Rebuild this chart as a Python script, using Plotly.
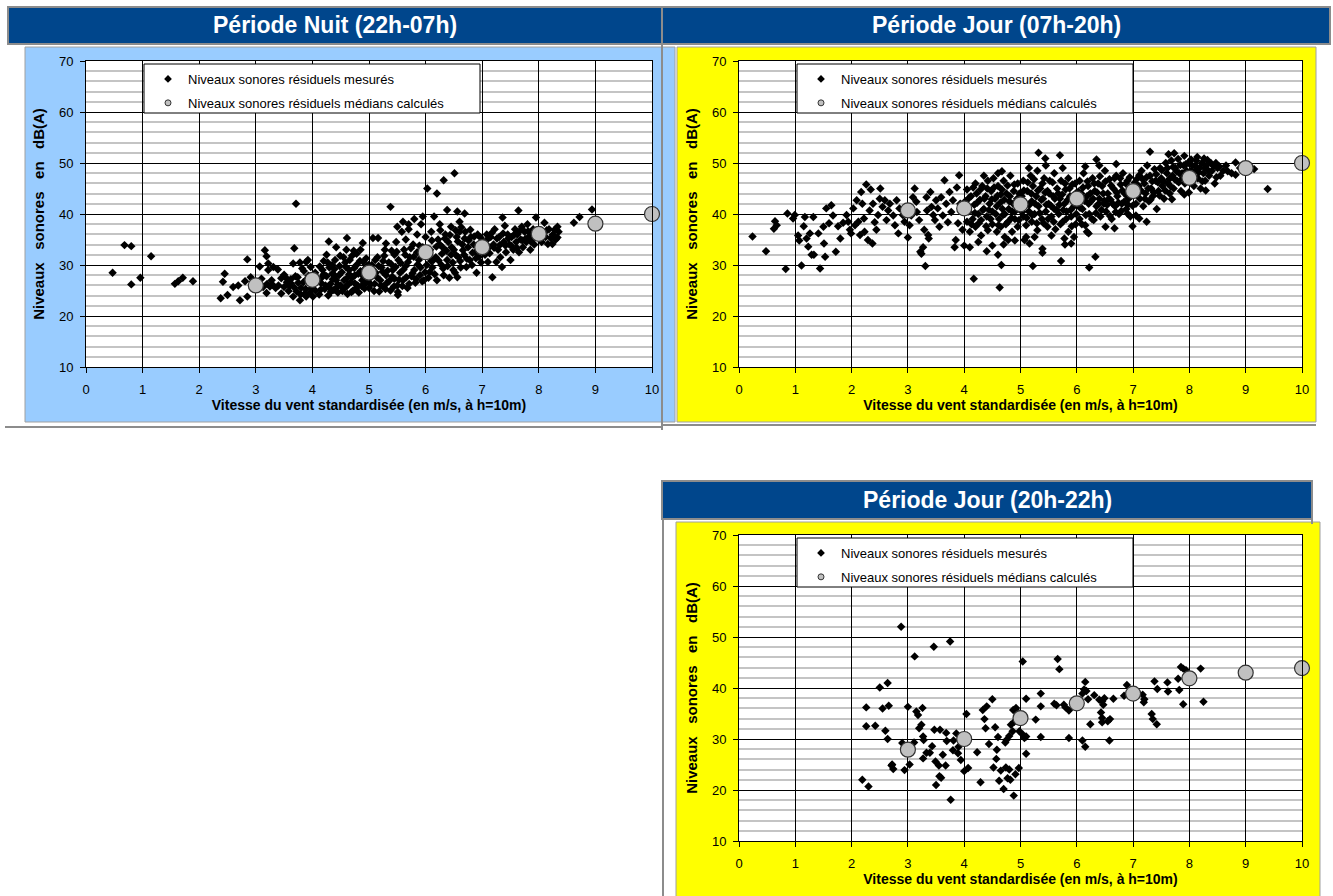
import plotly.graph_objects as go

W, H = 1333, 896

# ---------------- DATA ----------------
night_points = [
    (0.47, 28.5), (0.68, 33.9), (0.80, 33.7), (0.80, 26.2), (0.96, 27.5), (1.15, 31.7), (1.57, 26.3),
    (1.63, 26.8), (1.71, 27.5), (1.89, 26.8),
    (2.38, 23.5), (2.50, 24.1), (2.72, 23.1), (2.85, 23.8), (2.42, 26.7), (2.45, 28.3), (2.60, 25.7),
    (2.69, 26.0), (2.81, 26.8), (2.85, 31.1), (2.91, 27.6), (2.95, 26.5),
    (3.07, 29.7), (3.16, 32.9), (3.19, 31.7), (3.22, 30.3), (3.22, 29.0), (3.31, 29.6), (3.39, 29.1),
    (3.19, 24.5), (3.45, 24.4), (3.10, 27.3), (3.20, 26.3), (3.25, 25.8), (3.30, 26.1), (3.35, 25.5),
    (3.40, 26.0), (3.50, 25.7), (3.55, 26.6), (3.60, 25.9), (3.13, 25.7), (3.28, 27.0), (3.45, 27.4),
    (3.50, 28.1), (3.62, 27.2),
    (3.71, 42.0), (3.68, 33.3), (3.66, 30.3), (3.78, 30.5), (3.89, 30.6), (3.92, 31.0), (3.66, 23.8),
    (3.78, 23.1), (3.89, 23.8), (4.01, 23.8), (3.70, 27.8), (3.75, 26.5), (3.80, 25.5), (3.85, 28.8),
    (3.90, 27.2), (3.95, 24.5), (4.00, 26.0), (4.05, 25.0), (3.72, 24.8), (3.82, 29.3), (3.97, 29.6),
    (4.05, 28.5), (4.10, 27.3),
    (3.55, 27.3), (3.62, 26.4), (3.68, 25.6), (3.74, 27.6), (3.79, 24.2), (3.84, 26.6), (3.88, 25.3),
    (3.93, 27.9), (3.98, 25.4), (4.03, 27.2), (3.58, 24.9), (3.86, 24.3),
    (4.12, 24.2), (4.15, 26.5), (4.18, 29.0), (4.20, 30.8), (4.22, 25.3), (4.25, 27.8), (4.28, 24.0),
    (4.30, 29.5), (4.29, 34.6), (4.32, 26.3), (4.35, 28.3), (4.38, 25.1), (4.40, 31.0), (4.42, 33.5),
    (4.42, 27.0), (4.45, 24.6), (4.48, 29.8), (4.50, 26.0), (4.52, 28.6), (4.55, 25.3), (4.58, 30.5),
    (4.60, 27.3), (4.61, 35.3), (4.62, 24.3), (4.65, 29.0), (4.68, 26.6), (4.70, 31.8), (4.72, 25.0),
    (4.73, 32.8), (4.75, 28.0), (4.78, 32.2), (4.78, 30.0), (4.80, 26.0), (4.82, 24.6), (4.85, 28.8),
    (4.88, 27.0), (4.89, 34.3), (4.90, 30.6), (4.92, 25.4), (4.95, 29.5), (4.98, 26.8), (4.55, 31.5),
    (4.35, 30.0), (4.25, 32.0), (4.60, 33.0), (4.85, 33.0), (4.95, 31.3), (4.15, 25.2), (4.30, 25.6),
    (4.45, 26.2), (4.60, 25.8), (4.75, 26.4), (4.90, 27.8), (4.40, 27.9), (4.65, 28.2), (4.20, 28.2),
    (4.08, 26.8), (4.13, 29.7), (4.17, 27.6), (4.23, 26.0), (4.27, 30.5), (4.33, 24.8), (4.36, 27.2),
    (4.39, 29.2), (4.43, 25.6), (4.47, 28.0), (4.49, 31.8), (4.53, 24.9), (4.56, 27.0), (4.59, 29.6),
    (4.63, 26.2), (4.66, 31.0), (4.69, 24.7), (4.71, 27.6), (4.74, 29.4), (4.77, 25.4), (4.81, 28.3),
    (4.84, 30.8), (4.87, 25.9), (4.91, 29.0), (4.93, 26.3), (4.97, 28.2), (4.99, 30.0),
    (5.00, 25.5), (5.02, 27.5), (5.05, 30.0), (5.07, 35.3), (5.10, 26.3), (5.12, 28.5), (5.15, 31.5),
    (5.16, 35.3), (5.18, 24.8), (5.20, 27.0), (5.22, 29.5), (5.25, 25.8), (5.28, 33.0), (5.30, 28.0),
    (5.32, 26.5), (5.35, 30.5), (5.38, 41.4), (5.38, 25.0), (5.40, 32.8), (5.42, 29.0), (5.45, 27.3),
    (5.48, 34.5), (5.50, 26.0), (5.51, 24.1), (5.51, 24.7), (5.52, 31.0), (5.55, 28.5), (5.58, 36.5),
    (5.60, 27.0), (5.62, 33.0), (5.65, 29.8), (5.68, 25.5), (5.70, 37.0), (5.72, 31.5), (5.75, 27.8),
    (5.78, 34.0), (5.80, 29.0), (5.82, 26.5), (5.85, 36.0), (5.88, 31.0), (5.90, 28.0), (5.92, 38.0),
    (5.95, 33.5), (5.97, 27.0), (6.00, 35.5), (5.60, 38.5), (5.70, 38.0), (5.50, 37.5), (5.80, 39.0),
    (5.95, 39.5), (5.25, 30.8), (5.45, 32.0), (5.65, 35.0), (5.85, 32.5), (5.05, 28.8), (5.30, 34.2),
    (5.03, 26.2), (5.06, 29.2), (5.09, 24.9), (5.11, 31.0), (5.14, 27.6), (5.17, 29.8), (5.21, 26.0),
    (5.24, 28.7), (5.27, 31.8), (5.29, 25.3), (5.33, 28.9), (5.36, 26.9), (5.39, 30.2), (5.41, 27.7),
    (5.44, 25.8), (5.47, 29.6), (5.49, 32.6), (5.53, 27.1), (5.56, 30.4), (5.59, 25.9), (5.61, 29.1),
    (5.64, 32.0), (5.66, 27.6), (5.69, 30.6), (5.71, 26.3), (5.74, 33.3), (5.77, 28.4), (5.79, 31.6),
    (5.83, 27.2), (5.86, 30.1), (5.89, 33.8), (5.91, 29.5), (5.94, 26.8), (5.96, 31.9), (5.99, 28.6),
    (6.02, 30.0), (6.03, 45.0), (6.05, 27.5), (6.08, 33.0), (6.10, 36.5), (6.12, 29.5), (6.15, 39.5),
    (6.18, 31.5), (6.20, 44.0), (6.20, 27.0), (6.22, 35.0), (6.25, 38.0), (6.28, 30.0), (6.30, 33.5),
    (6.32, 46.6), (6.32, 28.0), (6.35, 36.0), (6.38, 40.8), (6.38, 31.0), (6.40, 34.5), (6.42, 27.5),
    (6.45, 37.5), (6.48, 30.5), (6.50, 33.0), (6.51, 48.0), (6.52, 28.5), (6.55, 35.5), (6.56, 40.5),
    (6.56, 27.6), (6.58, 31.5), (6.60, 38.5), (6.62, 29.5), (6.65, 34.0), (6.68, 32.0), (6.69, 40.1),
    (6.70, 36.5), (6.72, 29.6), (6.75, 33.5), (6.78, 31.0), (6.80, 35.5), (6.82, 30.0), (6.85, 34.0),
    (6.88, 32.5), (6.89, 31.3), (6.90, 28.5), (6.92, 36.0), (6.95, 33.0), (6.98, 30.5), (6.10, 30.8),
    (6.25, 34.0), (6.45, 32.0), (6.60, 36.5),
    (6.04, 32.5), (6.07, 28.6), (6.11, 34.8), (6.14, 31.0), (6.16, 28.2), (6.19, 33.6), (6.23, 30.9),
    (6.26, 36.8), (6.29, 32.2), (6.31, 29.3), (6.34, 35.2), (6.37, 32.8), (6.39, 29.8), (6.43, 35.9),
    (6.46, 33.5), (6.49, 29.0), (6.53, 36.8), (6.54, 31.9), (6.57, 34.6), (6.61, 30.8), (6.63, 37.4),
    (6.66, 32.9), (6.69, 35.2), (6.73, 31.2), (6.76, 34.8), (6.79, 36.9), (6.83, 32.4), (6.86, 35.6),
    (6.91, 33.8), (6.94, 31.6), (6.97, 35.4),
    (7.02, 34.5), (7.05, 32.0), (7.08, 36.0), (7.10, 30.6), (7.12, 33.5), (7.15, 35.5), (7.18, 27.6),
    (7.20, 34.0), (7.22, 37.0), (7.25, 30.6), (7.28, 33.0), (7.30, 35.5), (7.32, 31.5), (7.35, 29.6),
    (7.36, 39.3), (7.38, 34.5), (7.40, 37.7), (7.42, 32.5), (7.45, 36.0), (7.48, 34.0), (7.50, 31.0),
    (7.52, 35.5), (7.55, 33.0), (7.58, 37.0), (7.60, 34.5), (7.62, 36.0), (7.64, 40.7), (7.65, 32.5),
    (7.68, 35.0), (7.70, 37.5), (7.72, 33.5), (7.75, 36.5), (7.78, 34.5), (7.80, 38.0), (7.82, 35.5),
    (7.85, 33.0), (7.88, 36.0), (7.90, 37.0), (7.92, 34.0), (7.95, 39.3), (7.98, 35.8),
    (7.04, 33.2), (7.09, 35.0), (7.13, 32.3), (7.17, 36.3), (7.21, 33.4), (7.26, 35.2), (7.31, 33.9),
    (7.37, 36.2), (7.41, 33.8), (7.46, 35.2), (7.51, 33.8), (7.56, 35.9), (7.61, 33.4), (7.66, 36.6),
    (7.71, 34.8), (7.76, 35.1), (7.81, 36.6), (7.86, 34.6), (7.91, 35.4), (7.96, 36.8),
    (8.02, 36.5), (8.05, 34.5), (8.10, 38.3), (8.12, 35.5), (8.16, 34.1), (8.18, 37.0), (8.24, 34.1),
    (8.25, 36.0), (8.30, 35.0), (8.33, 37.5), (8.33, 35.4), (8.35, 36.5), (8.62, 38.3), (8.72, 39.4),
    (8.94, 40.9), (8.06, 35.6), (8.14, 36.8), (8.21, 35.3), (8.28, 36.9),
]
night_median_x = [3, 4, 5, 6, 7, 8, 9, 10]
night_median_y = [26.0, 27.1, 28.5, 32.5, 33.5, 36.1, 38.1, 40.0]

day_points = [
    (0.24, 35.6), (0.48, 32.7), (0.62, 37.1), (0.67, 37.8), (0.64, 38.6), (0.83, 29.2), (0.86, 40.1),
    (0.96, 39.1), (0.99, 39.8), (1.05, 35.8), (1.07, 34.8), (1.11, 29.9), (1.15, 37.6), (1.17, 39.4),
    (1.20, 35.2), (1.23, 33.6), (1.26, 36.2), (1.29, 32.0), (1.32, 39.4), (1.33, 32.0),
    (1.41, 36.2), (1.44, 29.3), (1.50, 37.5), (1.51, 34.2), (1.53, 31.6), (1.55, 41.1), (1.60, 38.2),
    (1.64, 41.7), (1.67, 39.7), (1.72, 32.6), (1.76, 37.6), (1.80, 35.2), (1.85, 38.3),
    (1.91, 39.8), (1.94, 38.5), (1.97, 36.9), (1.99, 36.2), (2.03, 41.1), (2.06, 37.8), (2.09, 42.7),
    (2.12, 38.5), (2.15, 35.9), (2.17, 44.3), (2.19, 42.0), (2.22, 39.1), (2.23, 36.5), (2.26, 45.8),
    (2.29, 34.9), (2.32, 40.7), (2.34, 44.8), (2.37, 34.2), (2.38, 42.0), (2.41, 38.4), (2.44, 36.9),
    (2.47, 39.8), (2.50, 43.0), (2.51, 45.0), (2.55, 41.4), (2.59, 42.7), (2.62, 38.8), (2.65, 40.7),
    (2.68, 42.0), (2.74, 39.7), (2.77, 37.8), (2.80, 42.7), (2.83, 36.2), (2.85, 41.1), (2.91, 39.8),
    (2.94, 38.5), (3.00, 35.4),
    (3.03, 37.8), (3.06, 39.7), (3.09, 43.3), (3.12, 45.0), (3.15, 42.4), (3.16, 40.4), (3.20, 38.8),
    (3.22, 32.6), (3.24, 32.2), (3.27, 33.5), (3.29, 36.9), (3.31, 29.8), (3.33, 43.3), (3.34, 40.7),
    (3.36, 35.9), (3.37, 35.2), (3.40, 44.3), (3.42, 41.4), (3.45, 39.8), (3.48, 38.8), (3.50, 42.7),
    (3.53, 41.1), (3.56, 37.5), (3.59, 43.3), (3.62, 39.7), (3.65, 46.6), (3.68, 42.0), (3.71, 38.4),
    (3.74, 44.3), (3.77, 40.4), (3.80, 42.7), (3.83, 33.5), (3.85, 34.9), (3.87, 45.2), (3.89, 38.2),
    (3.91, 47.6), (3.93, 42.0), (3.97, 36.9), (4.00, 33.8),
    (4.17, 27.3), (4.63, 25.6), (4.66, 30.0), (4.60, 32.0), (4.40, 32.7), (4.67, 48.4),
    (4.02, 42.5), (4.05, 38.5), (4.05, 44.8), (4.08, 40.5), (4.10, 36.5), (4.12, 43.5), (4.15, 39.0),
    (4.18, 41.8), (4.20, 46.0), (4.20, 37.5), (4.22, 44.0), (4.25, 40.0), (4.28, 42.8), (4.30, 35.8),
    (4.30, 38.8), (4.32, 45.5), (4.35, 41.0), (4.38, 43.5), (4.40, 39.5), (4.42, 36.8), (4.42, 46.5),
    (4.45, 42.0), (4.48, 44.5), (4.50, 40.5), (4.50, 38.0), (4.52, 47.0), (4.55, 43.0), (4.58, 36.5),
    (4.58, 41.5), (4.60, 45.5), (4.62, 39.0), (4.65, 43.8), (4.65, 37.5), (4.68, 41.0), (4.70, 46.5),
    (4.72, 40.0), (4.72, 35.5), (4.75, 44.0), (4.78, 38.5), (4.80, 42.5), (4.82, 47.5), (4.85, 40.5),
    (4.85, 36.5), (4.88, 44.5), (4.90, 39.0), (4.92, 42.0), (4.95, 46.0), (4.95, 37.5), (4.98, 41.0),
    (4.98, 44.0), (4.10, 33.5), (4.25, 34.5), (4.50, 33.8), (4.70, 34.0), (4.90, 34.8), (4.35, 47.5),
    (4.60, 48.0), (4.78, 34.9),
    (4.04, 41.2), (4.09, 43.2), (4.13, 38.0), (4.16, 45.2), (4.19, 40.2), (4.23, 42.2), (4.26, 38.2),
    (4.29, 44.8), (4.33, 40.8), (4.36, 43.0), (4.39, 37.6), (4.41, 45.0), (4.44, 40.8), (4.47, 39.0),
    (4.49, 42.9), (4.53, 45.2), (4.56, 40.0), (4.59, 43.6), (4.61, 37.8), (4.64, 42.2), (4.67, 44.8),
    (4.69, 39.8), (4.71, 42.8), (4.74, 38.0), (4.77, 45.6), (4.79, 41.0), (4.81, 43.5), (4.84, 39.2),
    (4.87, 42.0), (4.89, 45.8), (4.91, 40.6), (4.94, 43.0), (4.97, 38.8), (4.99, 42.6),
    (5.32, 52.0), (5.44, 50.9), (5.70, 51.5), (6.35, 50.7), (7.30, 52.2), (7.63, 51.7), (7.73, 51.9),
    (7.91, 51.4), (8.03, 50.7), (8.14, 51.2), (8.26, 50.9), (8.32, 50.6), (8.47, 50.0), (8.53, 49.3),
    (8.68, 48.4), (8.82, 47.7), (8.82, 50.1), (9.00, 49.3), (9.15, 48.8), (9.39, 44.9),
    (5.22, 29.8), (5.72, 30.8), (6.22, 29.5), (6.33, 31.6), (5.39, 33.2), (5.39, 32.4), (5.78, 35.2),
    (5.90, 34.2), (5.79, 34.0), (5.10, 35.5), (5.16, 34.2), (5.07, 34.9), (6.18, 36.5), (6.21, 36.2),
    (6.51, 37.5), (6.67, 37.2), (6.99, 37.6), (7.24, 38.5), (7.69, 42.9), (7.91, 43.8), (7.99, 44.2),
    (8.29, 44.6), (6.90, 40.1), (7.11, 39.1), (7.05, 39.7),
    (5.02, 43.5), (5.05, 39.5), (5.05, 46.5), (5.08, 41.5), (5.10, 37.8), (5.12, 44.5), (5.15, 40.5),
    (5.18, 47.5), (5.20, 42.5), (5.20, 38.5), (5.22, 45.5), (5.25, 40.0), (5.28, 43.5), (5.30, 36.8),
    (5.30, 48.5), (5.32, 41.5), (5.35, 45.0), (5.38, 39.0), (5.40, 43.0), (5.42, 47.0), (5.45, 40.5),
    (5.48, 37.5), (5.48, 44.5), (5.50, 42.0), (5.52, 46.5), (5.55, 39.5), (5.58, 43.5), (5.60, 41.0),
    (5.60, 48.0), (5.62, 37.0), (5.65, 45.0), (5.68, 40.0), (5.70, 43.0), (5.72, 46.5), (5.75, 38.5),
    (5.78, 42.0), (5.80, 44.8), (5.82, 40.5), (5.85, 47.0), (5.85, 36.5), (5.88, 43.5), (5.90, 39.5),
    (5.92, 45.8), (5.95, 41.5), (5.98, 38.0), (5.98, 44.0), (5.15, 49.0), (5.45, 49.5), (5.75, 49.0),
    (5.25, 35.5), (5.55, 35.8), (5.95, 35.5),
    (5.03, 40.4), (5.06, 44.6), (5.09, 42.0), (5.11, 39.2), (5.13, 46.2), (5.16, 41.8), (5.19, 44.0),
    (5.21, 39.8), (5.24, 46.8), (5.26, 42.0), (5.29, 38.2), (5.31, 44.6), (5.34, 40.2), (5.37, 42.8),
    (5.39, 46.0), (5.41, 38.2), (5.44, 44.2), (5.46, 41.8), (5.49, 39.0), (5.51, 44.0), (5.54, 41.6),
    (5.57, 46.2), (5.59, 38.5), (5.61, 43.0), (5.64, 40.8), (5.67, 44.0), (5.69, 41.8), (5.71, 38.0),
    (5.74, 43.8), (5.76, 40.8), (5.79, 46.0), (5.81, 39.0), (5.84, 42.8), (5.87, 45.0), (5.89, 40.8),
    (5.91, 37.6), (5.94, 43.0), (5.97, 46.0), (5.99, 40.0),
    (6.02, 42.5), (6.05, 46.5), (6.05, 39.0), (6.08, 44.0), (6.10, 41.0), (6.12, 48.0), (6.15, 37.8),
    (6.18, 43.5), (6.20, 45.5), (6.22, 40.0), (6.25, 42.5), (6.28, 47.0), (6.30, 38.8), (6.32, 44.5),
    (6.35, 41.5), (6.38, 46.0), (6.40, 43.0), (6.42, 39.5), (6.45, 45.5), (6.48, 42.0), (6.50, 48.5),
    (6.52, 40.5), (6.55, 44.0), (6.58, 46.8), (6.60, 42.8), (6.62, 39.0), (6.65, 45.0), (6.68, 41.5),
    (6.70, 47.5), (6.72, 43.5), (6.75, 40.0), (6.78, 45.8), (6.80, 42.0), (6.82, 48.0), (6.85, 44.0),
    (6.88, 41.0), (6.90, 46.5), (6.92, 43.0), (6.95, 39.5), (6.98, 45.0), (6.40, 49.5), (6.15, 49.3),
    (6.70, 49.8),
    (6.03, 44.4), (6.06, 41.2), (6.09, 38.0), (6.11, 45.2), (6.14, 42.6), (6.16, 39.8), (6.19, 46.4),
    (6.21, 42.0), (6.24, 44.0), (6.27, 39.0), (6.29, 43.0), (6.31, 46.0), (6.34, 40.2), (6.36, 44.2),
    (6.39, 42.0), (6.41, 47.4), (6.44, 40.8), (6.47, 44.0), (6.49, 42.6), (6.51, 46.4), (6.54, 41.8),
    (6.57, 43.0), (6.59, 39.6), (6.61, 45.6), (6.64, 42.0), (6.67, 47.0), (6.69, 40.4), (6.71, 44.2),
    (6.74, 42.2), (6.77, 47.0), (6.79, 40.6), (6.81, 44.6), (6.84, 42.4), (6.87, 46.0), (6.89, 43.6),
    (6.91, 41.8), (6.94, 47.2), (6.97, 43.6), (6.99, 41.6),
    (7.02, 44.5), (7.05, 42.0), (7.08, 47.0), (7.10, 45.5), (7.12, 43.0), (7.15, 48.5), (7.18, 41.5),
    (7.20, 46.0), (7.22, 44.0), (7.25, 49.5), (7.28, 42.5), (7.30, 47.5), (7.32, 45.0), (7.35, 43.5),
    (7.38, 48.8), (7.40, 46.5), (7.42, 41.0), (7.45, 44.5), (7.48, 49.0), (7.50, 47.0), (7.52, 45.5),
    (7.55, 43.0), (7.58, 50.0), (7.60, 48.0), (7.62, 46.0), (7.65, 44.0), (7.68, 50.5), (7.70, 47.5),
    (7.72, 45.0), (7.75, 49.0), (7.78, 46.5), (7.80, 50.8), (7.82, 48.0), (7.85, 44.5), (7.88, 47.0),
    (7.90, 49.5), (7.92, 46.0), (7.95, 48.5), (7.98, 50.0),
    (7.03, 46.2), (7.07, 43.8), (7.11, 47.6), (7.14, 44.6), (7.17, 46.8), (7.21, 43.0), (7.24, 47.2),
    (7.27, 45.0), (7.31, 42.8), (7.34, 46.4), (7.37, 44.2), (7.41, 47.8), (7.44, 46.2), (7.47, 43.6),
    (7.51, 48.6), (7.54, 46.4), (7.57, 44.6), (7.61, 49.0), (7.64, 46.8), (7.67, 45.4), (7.71, 49.2),
    (7.74, 46.8), (7.77, 48.4), (7.81, 46.2), (7.84, 49.6), (7.87, 48.0), (7.91, 47.4), (7.94, 49.8),
    (7.97, 47.6),
    (8.02, 47.5), (8.05, 49.5), (8.08, 45.5), (8.10, 48.5), (8.12, 50.5), (8.15, 47.0), (8.18, 49.0),
    (8.20, 45.0), (8.22, 50.0), (8.25, 48.0), (8.28, 46.5), (8.30, 49.5), (8.35, 47.5), (8.38, 50.0),
    (8.40, 48.5), (8.45, 46.0), (8.50, 49.0), (8.55, 47.5), (8.60, 48.5), (8.65, 49.5), (8.75, 48.0),
    (8.90, 49.0), (8.95, 48.5), (9.05, 49.0), (8.03, 48.4), (8.07, 46.6), (8.11, 49.4), (8.17, 48.2),
    (8.23, 46.4), (8.27, 49.0), (8.33, 48.6), (8.43, 49.4), (8.48, 47.2),
]
day_median_x = [3, 4, 5, 6, 7, 8, 9, 10]
day_median_y = [40.7, 41.1, 41.9, 43.0, 44.5, 47.1, 49.0, 50.0]

evening_points = [
    (2.19, 22.0), (2.30, 20.7), (2.26, 36.2), (2.26, 32.5), (2.42, 32.6), (2.50, 40.1), (2.55, 36.0),
    (2.60, 31.6), (2.64, 41.0), (2.64, 30.0), (2.66, 36.5), (2.71, 24.8), (2.74, 24.1), (2.72, 25.0),
    (2.88, 52.0), (2.90, 29.2), (2.94, 23.9), (3.00, 36.3), (3.03, 25.0), (3.12, 46.2),
    (3.11, 29.3), (3.15, 35.4), (3.18, 34.7), (3.20, 32.1), (3.24, 32.8), (3.26, 36.1), (3.27, 30.5),
    (3.28, 29.8), (3.27, 26.2), (3.33, 27.3), (3.39, 27.3), (3.43, 28.6), (3.46, 48.1), (3.47, 31.8),
    (3.49, 25.6), (3.50, 21.0), (3.55, 24.8), (3.56, 22.7), (3.59, 22.4), (3.57, 31.8), (3.62, 26.9),
    (3.67, 24.8), (3.68, 31.2), (3.69, 29.6), (3.75, 49.1), (3.76, 18.1), (3.80, 27.8), (3.81, 29.7),
    (3.86, 31.1), (3.89, 27.2), (3.90, 28.5), (3.94, 25.9),
    (4.00, 23.7), (4.04, 34.9), (4.07, 24.3), (4.23, 27.4), (4.29, 21.5), (4.33, 35.7), (4.36, 33.9),
    (4.38, 32.1), (4.40, 36.4), (4.44, 29.0), (4.50, 37.8), (4.52, 24.4), (4.55, 32.3), (4.57, 26.1),
    (4.58, 27.9), (4.60, 30.4), (4.62, 21.8), (4.65, 23.8), (4.70, 20.2), (4.73, 29.3), (4.74, 24.4),
    (4.77, 22.3), (4.82, 22.0), (4.80, 24.0), (4.88, 18.9), (4.91, 23.1), (4.94, 35.4), (4.97, 24.3),
    (4.75, 29.8), (4.80, 30.6), (4.86, 31.5), (4.83, 32.8), (4.89, 33.4), (4.87, 35.7), (4.92, 36.1),
    (5.04, 45.2), (5.10, 37.9), (5.10, 27.1), (4.98, 31.5), (5.04, 30.9), (5.07, 30.2), (5.10, 30.5),
    (5.27, 33.8), (5.36, 38.9), (5.36, 36.4), (5.36, 30.4), (5.60, 36.9), (5.64, 36.6), (5.66, 45.7),
    (5.69, 43.7), (5.77, 36.7), (5.80, 36.2), (5.86, 35.6), (5.86, 30.2),
    (6.10, 29.7), (6.15, 28.5), (6.10, 38.9), (6.13, 39.7), (6.15, 41.2), (6.17, 39.4), (6.20, 37.8),
    (6.24, 32.9), (6.31, 38.6), (6.40, 37.7), (6.45, 37.4), (6.47, 36.7), (6.49, 38.0), (6.43, 35.2),
    (6.45, 34.1), (6.45, 33.3), (6.55, 33.5), (6.59, 33.9), (6.58, 29.7), (6.65, 37.9),
    (6.84, 38.5), (6.89, 40.6), (7.17, 38.7), (7.20, 37.8), (7.19, 37.2), (7.33, 34.9), (7.35, 33.9),
    (7.42, 32.9), (7.38, 41.3), (7.43, 39.8), (7.61, 41.1), (7.62, 39.3), (7.82, 39.6), (7.80, 41.8),
    (7.85, 44.1), (7.89, 43.8), (7.89, 36.8), (7.94, 43.5), (8.20, 43.8), (8.25, 37.3),
]
evening_median_x = [3, 4, 5, 6, 7, 8, 9, 10]
evening_median_y = [27.9, 30.0, 34.1, 37.0, 38.9, 41.9, 43.0, 43.9]

panel_titles = ["Période Nuit (22h-07h)", "Période Jour (07h-20h)", "Période Jour (20h-22h)"]
legend_names = ["Niveaux sonores résiduels mesurés", "Niveaux sonores résiduels médians calculés"]
x_title = "Vitesse du vent standardisée (en m/s, à h=10m)"
y_title_words = ["Niveaux", "sonores", "en", "dB(A)"]

# ---------------- STYLE / LAYOUT ----------------
FONT = "Liberation Sans, Arial, sans-serif"
HEADER_BLUE = "#00468C"
LIGHT_BLUE = "#99CCFF"
YELLOW = "#FFFF00"
FRAME_GRAY = "#8C8C8C"
WIDE_GAP = " " + "\u00a0" * 2


def px_x(p):
    return p / W


def px_y(p):
    return 1 - p / H


# plot-area pixel boxes (left, right, top, bottom)
boxes = [(86, 652, 61, 367), (739, 1302, 61, 367), (739, 1302, 535, 841)]

fig = go.Figure()

datasets = [
    (night_points, night_median_x, night_median_y),
    (day_points, day_median_x, day_median_y),
    (evening_points, evening_median_x, evening_median_y),
]

for i, (pts, mx, my) in enumerate(datasets):
    sfx = "" if i == 0 else str(i + 1)
    xs = [p[0] for p in pts]
    ys = [p[1] for p in pts]
    leg = "legend" + sfx
    fig.add_trace(go.Scatter(
        x=xs, y=ys, mode="markers", xaxis="x" + sfx, yaxis="y" + sfx,
        marker=dict(symbol="diamond", size=6.5, color="black", line=dict(width=0)),
        showlegend=False, hoverinfo="skip"))
    fig.add_trace(go.Scatter(
        x=mx, y=my, mode="markers", xaxis="x" + sfx, yaxis="y" + sfx, cliponaxis=False,
        marker=dict(symbol="circle", size=15, color="#C0C0C0", line=dict(width=1.2, color="#333333")),
        showlegend=False, hoverinfo="skip"))
    # legend entries (small symbols as in the original)
    fig.add_trace(go.Scatter(
        x=[None], y=[None], mode="markers", xaxis="x" + sfx, yaxis="y" + sfx,
        name=legend_names[0], legend=leg, legendgroup="m" + sfx,
        marker=dict(symbol="diamond", size=6, color="black")))
    fig.add_trace(go.Scatter(
        x=[None], y=[None], mode="markers", xaxis="x" + sfx, yaxis="y" + sfx,
        name=legend_names[1], legend=leg, legendgroup="d" + sfx,
        marker=dict(symbol="circle", size=6, color="#C0C0C0", line=dict(width=1, color="#333333"))))

layout = dict(
    width=W, height=H, margin=dict(l=0, r=0, t=0, b=0),
    paper_bgcolor="white", plot_bgcolor="white",
    font=dict(family=FONT, size=13, color="black"),
    showlegend=True,
)

for i, (l, r, t, b) in enumerate(boxes):
    sfx = "" if i == 0 else str(i + 1)
    layout["xaxis" + sfx] = dict(
        domain=[px_x(l), px_x(r)], anchor="y" + sfx, range=[0, 10], dtick=1, tick0=0,
        showgrid=True, gridcolor="black", gridwidth=1, zeroline=False,
        showline=True, linecolor="black", linewidth=1, mirror=True,
        ticks="outside", ticklen=5, tickcolor="black", ticklabelstandoff=5,
        tickfont=dict(family=FONT, size=13, color="black"),
        title=dict(text="<b>" + x_title + "</b>", standoff=3,
                   font=dict(family=FONT, size=14, color="black")),
        automargin=False, fixedrange=True)
    layout["yaxis" + sfx] = dict(
        domain=[px_y(b), px_y(t)], anchor="x" + sfx, range=[10, 70], dtick=10, tick0=10,
        showgrid=True, gridcolor="black", gridwidth=1, zeroline=False,
        showline=True, linecolor="black", linewidth=1, mirror=True,
        ticks="outside", ticklen=5, tickcolor="black", ticklabelstandoff=4,
        tickfont=dict(family=FONT, size=13, color="black"),
        minor=dict(dtick=2, tick0=10, showgrid=True, gridcolor="#C4C4C4", gridwidth=1.6, ticks=""),
        title=dict(text="<b>" + WIDE_GAP.join(y_title_words) + "</b>", standoff=10,
                   font=dict(family=FONT, size=15, color="black")),
        automargin=False, fixedrange=True)
    leg = "legend" + sfx
    layout[leg] = dict(
        x=px_x(l + 62), y=px_y(t + 3), xanchor="left", yanchor="top",
        bgcolor="rgba(0,0,0,0)", borderwidth=0, tracegroupgap=4,
        font=dict(family=FONT, size=13, color="black"), itemsizing="trace")

shapes = []


def rect(x0, y0, x1, y1, fill, line_color=None, lw=0, layer="below"):
    shapes.append(dict(type="rect", xref="paper", yref="paper",
                       x0=px_x(x0), x1=px_x(x1), y0=px_y(y1), y1=px_y(y0),
                       fillcolor=fill, layer=layer,
                       line=dict(color=line_color or fill, width=lw)))


def hline(x0, x1, y, color=FRAME_GRAY, w=2):
    shapes.append(dict(type="line", xref="paper", yref="paper",
                       x0=px_x(x0), x1=px_x(x1), y0=px_y(y), y1=px_y(y),
                       line=dict(color=color, width=w), layer="below"))


def vline(x, y0, y1, color=FRAME_GRAY, w=2):
    shapes.append(dict(type="line", xref="paper", yref="paper",
                       x0=px_x(x), x1=px_x(x), y0=px_y(y0), y1=px_y(y1),
                       line=dict(color=color, width=w), layer="below"))


# panel backgrounds
rect(25, 47, 675, 422, LIGHT_BLUE, "#A0A0A0", 1)
rect(677, 47, 1316, 422, YELLOW, "#A0A0A0", 1)
rect(676, 522, 1320, 900, YELLOW, "#A0A0A0", 1)
# white plot areas
for (l, r, t, b) in boxes:
    rect(l, t, r, b, "white", "white", 0)
# header bars
rect(8, 7, 662, 44, HEADER_BLUE, FRAME_GRAY, 2)
rect(662, 7, 1330, 44, HEADER_BLUE, FRAME_GRAY, 2)
rect(662, 481, 1312, 519, HEADER_BLUE, FRAME_GRAY, 2)
# frame lines
hline(5, 662, 427)
hline(662, 1316, 425)
vline(662, 44, 430)
vline(663, 519, 896)
vline(1312, 519, 524)

# legend boxes (above the grid)
for (l, r, t, b) in boxes:
    rect(l + 58, t + 3, l + 394, t + 52, "white", "black", 1, layer="above")

layout["shapes"] = shapes

annotations = []
for txt, (x0, x1, yc) in zip(panel_titles, [(8, 662, 25.5), (662, 1330, 25.5), (662, 1312, 500)]):
    annotations.append(dict(text="<b>" + txt + "</b>", xref="paper", yref="paper",
                            x=px_x((x0 + x1) / 2), y=px_y(yc), xanchor="center", yanchor="middle",
                            showarrow=False, font=dict(family=FONT, size=23, color="white")))
layout["annotations"] = annotations

fig.update_layout(**layout)
fig.write_html("out.html")
